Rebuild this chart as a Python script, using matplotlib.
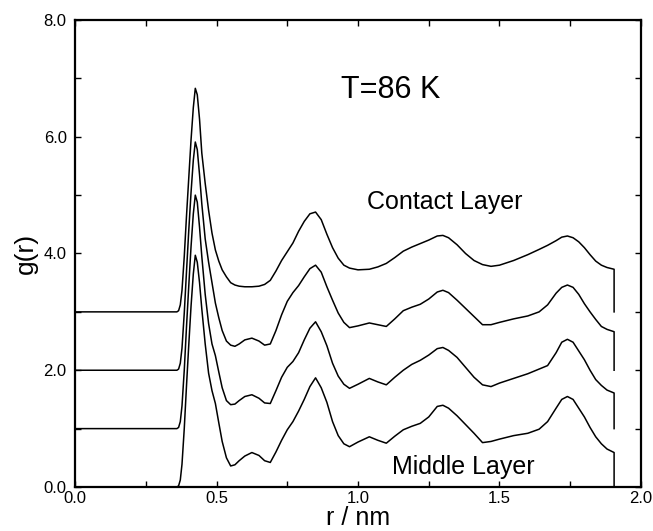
#################### Libraries
import matplotlib
matplotlib.use('Agg')
import matplotlib.pyplot as plt
from matplotlib.ticker import MultipleLocator, FormatStrFormatter

plt.rcParams['font.family'] = ['Liberation Sans', 'DejaVu Sans']

#################### Data, g(r) without the vertical shift
r = [0.0, 0.36, 0.366, 0.372, 0.378, 0.386, 0.394, 0.402, 0.41, 0.418, 0.425,
     0.432, 0.44, 0.448, 0.46, 0.472, 0.484, 0.496, 0.508, 0.52, 0.535, 0.55,
     0.565, 0.58, 0.60, 0.625, 0.65, 0.67, 0.69, 0.71, 0.73, 0.75, 0.77, 0.79,
     0.81, 0.83, 0.85, 0.87, 0.89, 0.91, 0.93, 0.95, 0.97, 1.0, 1.04, 1.07,
     1.10, 1.13, 1.16, 1.19, 1.22, 1.25, 1.28, 1.30, 1.32, 1.35, 1.38, 1.41,
     1.44, 1.47, 1.50, 1.55, 1.60, 1.64, 1.67, 1.70, 1.72, 1.74, 1.76, 1.78,
     1.80, 1.82, 1.84, 1.86, 1.88, 1.905, 1.905]

g_contact = [0, 0, 0.02, 0.12, 0.37, 0.95, 1.65, 2.3, 2.95, 3.5, 3.83,
             3.72, 3.3, 2.72, 2.2, 1.74, 1.35, 1.06, 0.87, 0.72, 0.6, 0.5,
             0.46, 0.44, 0.43, 0.43, 0.44, 0.47, 0.54, 0.7, 0.88, 1.03, 1.18, 1.38,
             1.55, 1.68, 1.71, 1.58, 1.33, 1.1, 0.92, 0.8, 0.75, 0.72, 0.73, 0.77,
             0.83, 0.93, 1.04, 1.11, 1.17, 1.23, 1.3, 1.31, 1.27, 1.15, 1.0, 0.88,
             0.81, 0.78, 0.8, 0.88, 0.98, 1.07, 1.14, 1.22, 1.28, 1.30, 1.27, 1.2,
             1.1, 0.98, 0.87, 0.8, 0.76, 0.73, 0]

g_layer2 = [0, 0, 0.02, 0.12, 0.38, 0.98, 1.7, 2.4, 3.05, 3.6, 3.91,
            3.78, 3.35, 2.85, 2.25, 1.85, 1.5, 1.15, 0.9, 0.68, 0.5, 0.43,
            0.41, 0.45, 0.52, 0.55, 0.5, 0.43, 0.45, 0.68, 0.95, 1.18, 1.33, 1.45,
            1.6, 1.74, 1.80, 1.68, 1.43, 1.2, 0.98, 0.82, 0.73, 0.76, 0.81, 0.78,
            0.75, 0.88, 1.02, 1.08, 1.13, 1.22, 1.34, 1.37, 1.33, 1.2, 1.06, 0.92,
            0.78, 0.78, 0.82, 0.88, 0.93, 1.0, 1.12, 1.32, 1.42, 1.46, 1.42, 1.3,
            1.14, 1.0, 0.87, 0.75, 0.7, 0.66, 0]

g_layer3 = [0, 0, 0.02, 0.12, 0.39, 1.0, 1.75, 2.45, 3.12, 3.68, 4.0,
            3.88, 3.45, 2.95, 2.3, 1.8, 1.45, 1.25, 0.97, 0.7, 0.48, 0.41,
            0.42, 0.48, 0.55, 0.58, 0.52, 0.44, 0.43, 0.65, 0.88, 1.05, 1.15, 1.3,
            1.52, 1.72, 1.83, 1.66, 1.42, 1.12, 0.9, 0.76, 0.69, 0.76, 0.86, 0.8,
            0.75, 0.88, 1.0, 1.1, 1.17, 1.26, 1.37, 1.39, 1.34, 1.22, 1.05, 0.88,
            0.75, 0.72, 0.78, 0.86, 0.94, 1.02, 1.08, 1.3, 1.48, 1.53, 1.48, 1.33,
            1.18, 1.0, 0.84, 0.74, 0.66, 0.61, 0]

g_middle = [0, 0, 0.02, 0.12, 0.39, 1.0, 1.74, 2.44, 3.1, 3.65, 3.97,
            3.85, 3.5, 3.05, 2.45, 1.95, 1.65, 1.43, 1.1, 0.78, 0.5, 0.36,
            0.38, 0.45, 0.53, 0.59, 0.54, 0.45, 0.42, 0.6, 0.8, 0.98, 1.12, 1.3,
            1.5, 1.72, 1.87, 1.7, 1.45, 1.12, 0.88, 0.74, 0.69, 0.77, 0.86, 0.8,
            0.75, 0.87, 0.98, 1.04, 1.09, 1.2, 1.38, 1.4, 1.35, 1.22, 1.07, 0.92,
            0.76, 0.78, 0.82, 0.88, 0.92, 0.99, 1.12, 1.35, 1.5, 1.55, 1.5, 1.35,
            1.2, 1.02, 0.86, 0.74, 0.65, 0.59, 0]

curves = [g_contact, g_layer2, g_layer3, g_middle]
shifts = [3.0, 2.0, 1.0, 0.0]

#################### Plot
fig = plt.figure(figsize=(6.53, 5.31), dpi=100)
ax = fig.add_axes([0.1149, 0.0829, 0.8667, 0.8794])

for g, s in zip(curves, shifts):
    ax.plot(r, [v + s for v in g], color='black', lw=1.1,
            solid_joinstyle='round')

ax.set_xlim(0, 2.0)
ax.set_ylim(0, 8.0)
ax.xaxis.set_major_locator(MultipleLocator(0.5))
ax.xaxis.set_minor_locator(MultipleLocator(0.25))
ax.yaxis.set_major_locator(MultipleLocator(2.0))
ax.yaxis.set_minor_locator(MultipleLocator(1.0))
ax.xaxis.set_major_formatter(FormatStrFormatter('%.1f'))
ax.yaxis.set_major_formatter(FormatStrFormatter('%.1f'))
ax.tick_params(which='both', direction='in', top=True, right=True,
               length=4, width=1, labelsize=12)
ax.tick_params(axis='x', pad=3)
ax.tick_params(axis='y', pad=6)
for sp in ax.spines.values():
    sp.set_linewidth(1.6)

ax.set_xlabel('r / nm', fontsize=18, labelpad=0)
ax.set_ylabel('g(r)', fontsize=19, labelpad=4)

ax.text(1.115, 6.8, 'T=86 K', fontsize=22, ha='center', va='center')
ax.text(1.308, 4.88, 'Contact Layer', fontsize=18, ha='center', va='center')
ax.text(1.372, 0.35, 'Middle Layer', fontsize=18, ha='center', va='center')

fig.savefig('out.png', dpi=100)
